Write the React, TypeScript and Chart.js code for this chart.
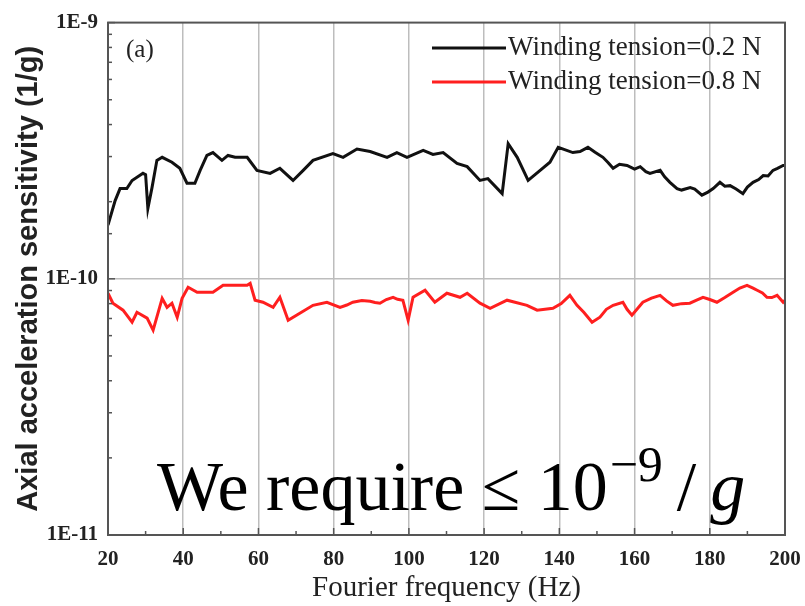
import React, { useEffect, useRef } from "react";
import { Chart, registerables } from "chart.js";

Chart.register(...registerables);

const xTicks = [20, 40, 60, 80, 100, 120, 140, 160, 180, 200];
const yTickLabels = ["1E-9", "1E-10", "1E-11"];
const seriesNames = ["Winding tension=0.2 N", "Winding tension=0.8 N"];

const blackFreq = [20, 21.9, 23.2, 25.0, 26.4, 29.3, 30.0, 30.6, 31.7, 33.0, 34.4, 37.0, 39.1, 41.0, 43.1, 44.5, 46.3, 47.9, 50.3, 51.9, 53.8, 57.0, 59.6, 63.1, 65.7, 69.2, 71.9, 74.5, 79.8, 82.5, 86.2, 89.7, 94.2, 96.8, 99.5, 103.8, 106.4, 109.1, 112.8, 115.5, 118.9, 121.0, 124.8, 126.4, 128.8, 131.7, 134.9, 137.5, 139.7, 143.6, 145.5, 147.6, 149.5, 151.6, 153.0, 154.3, 156.0, 158.0, 160.0, 161.5, 163.0, 164.1, 166.8, 168.0, 169.4, 171.3, 172.5, 174.8, 176.0, 177.9, 179.5, 180.9, 182.7, 184.0, 185.4, 187.0, 188.8, 190.0, 191.5, 193.0, 194.2, 195.5, 196.8, 198.0, 199.5, 200];
const blackVal = [1.62e-10, 2.02e-10, 2.25e-10, 2.25e-10, 2.42e-10, 2.58e-10, 2.55e-10, 1.88e-10, 2.27e-10, 2.90e-10, 2.98e-10, 2.85e-10, 2.70e-10, 2.36e-10, 2.36e-10, 2.65e-10, 3.03e-10, 3.11e-10, 2.90e-10, 3.03e-10, 2.98e-10, 2.98e-10, 2.65e-10, 2.58e-10, 2.70e-10, 2.42e-10, 2.65e-10, 2.90e-10, 3.08e-10, 2.98e-10, 3.21e-10, 3.14e-10, 2.98e-10, 3.11e-10, 2.98e-10, 3.17e-10, 3.06e-10, 3.11e-10, 2.82e-10, 2.74e-10, 2.42e-10, 2.46e-10, 2.15e-10, 3.37e-10, 2.98e-10, 2.42e-10, 2.65e-10, 2.85e-10, 3.26e-10, 3.11e-10, 3.14e-10, 3.26e-10, 3.12e-10, 2.98e-10, 2.84e-10, 2.70e-10, 2.80e-10, 2.77e-10, 2.68e-10, 2.74e-10, 2.62e-10, 2.58e-10, 2.65e-10, 2.50e-10, 2.38e-10, 2.25e-10, 2.22e-10, 2.27e-10, 2.24e-10, 2.12e-10, 2.18e-10, 2.25e-10, 2.38e-10, 2.30e-10, 2.31e-10, 2.24e-10, 2.15e-10, 2.28e-10, 2.38e-10, 2.44e-10, 2.53e-10, 2.52e-10, 2.65e-10, 2.70e-10, 2.77e-10, 2.77e-10];

const redFreq = [20, 21.3, 24.0, 26.4, 27.7, 30.4, 32.0, 34.4, 35.7, 37.0, 38.4, 39.7, 41.3, 43.7, 47.9, 50.6, 57.0, 57.8, 59.1, 61.2, 63.9, 65.7, 67.9, 71.0, 74.5, 78.2, 81.7, 83.5, 85.1, 87.5, 89.7, 91.0, 92.3, 94.0, 95.8, 97.0, 98.4, 99.8, 101.1, 104.3, 106.9, 110.1, 113.6, 115.5, 118.9, 121.6, 126.1, 131.4, 134.1, 138.3, 140.5, 142.8, 144.7, 146.5, 148.7, 150.8, 152.5, 154.3, 156.9, 158.0, 159.3, 162.2, 164.5, 166.8, 168.5, 170.2, 172.5, 174.7, 176.5, 178.2, 180.0, 181.9, 184.0, 186.2, 188.0, 189.9, 191.5, 192.6, 194.0, 195.2, 196.5, 197.9, 199.5, 200];
const redVal = [0.878e-10, 0.803e-10, 0.754e-10, 0.677e-10, 0.740e-10, 0.702e-10, 0.630e-10, 0.839e-10, 0.774e-10, 0.803e-10, 0.708e-10, 0.839e-10, 0.927e-10, 0.886e-10, 0.886e-10, 0.943e-10, 0.943e-10, 0.960e-10, 0.825e-10, 0.810e-10, 0.774e-10, 0.847e-10, 0.689e-10, 0.734e-10, 0.788e-10, 0.810e-10, 0.774e-10, 0.790e-10, 0.810e-10, 0.822e-10, 0.817e-10, 0.808e-10, 0.803e-10, 0.830e-10, 0.847e-10, 0.832e-10, 0.825e-10, 0.689e-10, 0.847e-10, 0.902e-10, 0.810e-10, 0.878e-10, 0.847e-10, 0.878e-10, 0.803e-10, 0.767e-10, 0.825e-10, 0.788e-10, 0.754e-10, 0.767e-10, 0.800e-10, 0.862e-10, 0.788e-10, 0.740e-10, 0.677e-10, 0.708e-10, 0.760e-10, 0.788e-10, 0.810e-10, 0.760e-10, 0.721e-10, 0.810e-10, 0.840e-10, 0.862e-10, 0.820e-10, 0.788e-10, 0.800e-10, 0.803e-10, 0.825e-10, 0.847e-10, 0.830e-10, 0.810e-10, 0.845e-10, 0.886e-10, 0.920e-10, 0.943e-10, 0.920e-10, 0.902e-10, 0.880e-10, 0.847e-10, 0.845e-10, 0.862e-10, 0.810e-10, 0.825e-10];

const BLACK = "#111111";
const RED = "#ff1f1f";
const AXIS = "#555555";

const isPow10 = (v: number) => {
  const l = Math.log10(v);
  return Math.abs(l - Math.round(l)) < 1e-6;
};

const decorPlugin = {
  id: "decor",
  afterDraw(chart: any) {
    const { ctx, chartArea: a, scales } = chart;
    const xs = scales.x;
    const ys = scales.y;
    ctx.save();
    ctx.strokeStyle = AXIS;
    ctx.lineWidth = 1.5;
    for (let v = 20; v <= 200; v += 10) {
      const px = xs.getPixelForValue(v);
      const len = v % 20 === 0 ? 7 : 4;
      ctx.beginPath();
      ctx.moveTo(px, a.bottom);
      ctx.lineTo(px, a.bottom - len);
      ctx.stroke();
    }
    ys.ticks.forEach((t: any) => {
      const py = ys.getPixelForValue(t.value);
      const len = isPow10(t.value) ? 7 : 4;
      ctx.beginPath();
      ctx.moveTo(a.left, py);
      ctx.lineTo(a.left + len, py);
      ctx.stroke();
    });
    ctx.lineWidth = 2;
    ctx.strokeRect(a.left, a.top, a.right - a.left, a.bottom - a.top);

    ctx.fillStyle = "#222";
    ctx.font = '25px "Liberation Serif"';
    ctx.textBaseline = "middle";
    ctx.textAlign = "left";
    ctx.fillText("(a)", 126, 50);

    const rows = [
      { y: 48, color: BLACK, text: seriesNames[0] },
      { y: 82, color: RED, text: seriesNames[1] },
    ];
    rows.forEach((r) => {
      ctx.strokeStyle = r.color;
      ctx.lineWidth = 3;
      ctx.beginPath();
      ctx.moveTo(432, r.y);
      ctx.lineTo(506, r.y);
      ctx.stroke();
      ctx.fillStyle = "#222";
      ctx.font = '27px "Liberation Serif"';
      ctx.fillText(r.text, 508, r.y);
    });

    const fs = 70;
    let x = 157;
    const base = 510;
    ctx.fillStyle = "#000";
    ctx.textBaseline = "alphabetic";
    ctx.font = `${fs}px "Liberation Serif"`;
    const t1 = "We require \u2264 10";
    ctx.fillText(t1, x, base);
    x += ctx.measureText(t1).width + 2;
    ctx.font = `${Math.round(fs * 0.72)}px "Liberation Serif"`;
    const t2 = "\u22129";
    ctx.fillText(t2, x, base - fs * 0.42);
    x += ctx.measureText(t2).width + 14;
    ctx.font = `${fs}px "Liberation Serif"`;
    ctx.fillText("/", x, base);
    x += ctx.measureText("/").width + 14;
    ctx.font = `italic ${fs}px "Liberation Serif"`;
    ctx.fillText("g", x, base);
    ctx.restore();
  },
};

export default function App() {
  const ref = useRef<HTMLCanvasElement | null>(null);
  useEffect(() => {
    if (!ref.current) return;
    const chart = new Chart(ref.current, {
      type: "line",
      data: {
        datasets: [
          {
            label: seriesNames[0],
            data: blackFreq.map((f, i) => ({ x: f, y: blackVal[i] })),
            borderColor: BLACK,
            borderWidth: 3,
            pointRadius: 0,
            tension: 0,
          },
          {
            label: seriesNames[1],
            data: redFreq.map((f, i) => ({ x: f, y: redVal[i] })),
            borderColor: RED,
            borderWidth: 3,
            pointRadius: 0,
            tension: 0,
          },
        ],
      },
      options: {
        animation: false,
        responsive: true,
        maintainAspectRatio: false,
        layout: { padding: { top: 22, right: 20, left: 0, bottom: 0 } },
        plugins: { legend: { display: false }, tooltip: { enabled: false } },
        scales: {
          x: {
            type: "linear",
            min: 20,
            max: 200,
            afterBuildTicks: (s: any) => {
              s.ticks = xTicks.map((v) => ({ value: v }));
            },
            afterFit: (s: any) => {
              s.height = 71;
              s.paddingLeft = 0;
              s.paddingRight = 0;
            },
            ticks: {
              autoSkip: false,
              maxRotation: 0,
              padding: 12,
              color: "#222",
              font: { family: "Liberation Serif", size: 21, weight: "bold" },
            },
            grid: {
              drawTicks: false,
              color: (c: any) => (c.tick && c.tick.value > 20 && c.tick.value < 200 ? "#bdbdbd" : "rgba(0,0,0,0)"),
              lineWidth: 1.5,
            },
            border: { display: false },
            title: {
              display: true,
              text: "Fourier frequency (Hz)",
              color: "#222",
              font: { family: "Liberation Serif", size: 29 },
              padding: { top: 0, bottom: 0 },
            },
          },
          y: {
            type: "logarithmic",
            min: 1e-11,
            max: 1e-9,
            afterFit: (s: any) => {
              s.width = 108;
            },
            ticks: {
              autoSkip: false,
              padding: 10,
              color: "#222",
              font: { family: "Liberation Serif", size: 21, weight: "bold" },
              callback: (v: any) => {
                const n = Number(v);
                if (!isPow10(n)) return "";
                const e = Math.round(Math.log10(n));
                return yTickLabels[-9 - e] ?? "";
              },
            },
            grid: {
              drawTicks: false,
              color: (c: any) => (c.tick && Math.abs(Math.log10(c.tick.value) + 10) < 1e-6 ? "#bdbdbd" : "rgba(0,0,0,0)"),
              lineWidth: 1.5,
            },
            border: { display: false },
            title: {
              display: true,
              text: "Axial acceleration sensitivity (1/g)",
              color: "#222",
              font: { family: "Liberation Sans", size: 29, weight: "bold" },
              padding: { top: 12, bottom: 0 },
            },
          },
        },
      },
      plugins: [decorPlugin],
    } as any);
    return () => chart.destroy();
  }, []);
  return (
    <div style={{ position: "absolute", left: 0, top: 0, width: 805, height: 606, background: "#fff" }}>
      <canvas ref={ref} />
    </div>
  );
}
